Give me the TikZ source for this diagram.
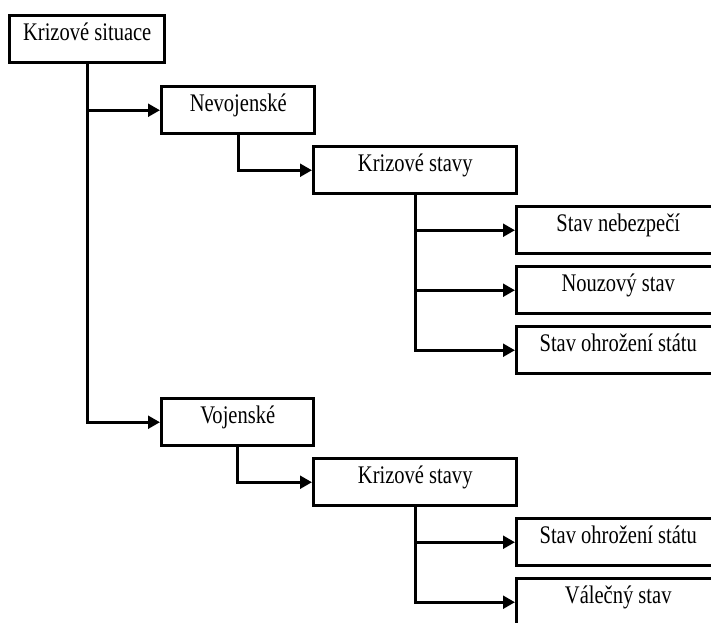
\documentclass[tikz,border=0pt]{standalone}
\usepackage{fontspec}
\setmainfont{Liberation Serif}[FakeStretch=0.81]
\usetikzlibrary{arrows.meta}
\tikzset{
  box/.style={draw, line width=2.6pt, rectangle, inner sep=0pt, anchor=north west,
    fill=white, text height=18.5pt, text depth=16.75pt,
    font=\fontsize{19}{21}\selectfont},
  link/.style={line width=2.6pt, line join=miter,
    -{Triangle[length=9pt,width=9.5pt]}}
}
\begin{document}
\begin{tikzpicture}[x=0.75pt, y=-0.75pt]
  \useasboundingbox (0,0) rectangle (711,622);
  \clip (0,0) rectangle (711,622);
  \fill[white] (0,0) rectangle (711,622);

  % top level
  \node[box, minimum width={155*0.75pt}] (top) at (8,14) {Krizové situace};

  % non-military branch
  \node[box, minimum width={153*0.75pt}] (nevoj) at (160,85) {Nevojenské};
  \node[box, minimum width={203*0.75pt}] (ks1) at (312,145) {Krizové stavy};
  \node[box, minimum width={203*0.75pt}] (neb) at (515,205) {Stav nebezpečí};
  \node[box, minimum width={203*0.75pt}] (nouz) at (515,265) {Nouzový stav};
  \node[box, minimum width={203*0.75pt}] (ohr1) at (515,325) {Stav ohrožení státu};

  % military branch
  \node[box, minimum width={152*0.75pt}] (voj) at (160,397) {Vojenské};
  \node[box, minimum width={203*0.75pt}] (ks2) at (312,457) {Krizové stavy};
  \node[box, minimum width={203*0.75pt}] (ohr2) at (515,517) {Stav ohrožení státu};
  \node[box, minimum width={203*0.75pt}] (valka) at (515,577) {Válečný stav};

  % connectors
  \draw[link] (top.south) |- (nevoj.west);
  \draw[link] (top.south) |- (voj.west);
  \draw[link] (nevoj.south) |- (ks1.west);
  \draw[link] (ks1.south) |- (neb.west);
  \draw[link] (ks1.south) |- (nouz.west);
  \draw[link] (ks1.south) |- (ohr1.west);
  \draw[link] (voj.south) |- (ks2.west);
  \draw[link] (ks2.south) |- (ohr2.west);
  \draw[link] (ks2.south) |- (valka.west);
\end{tikzpicture}
\end{document}
